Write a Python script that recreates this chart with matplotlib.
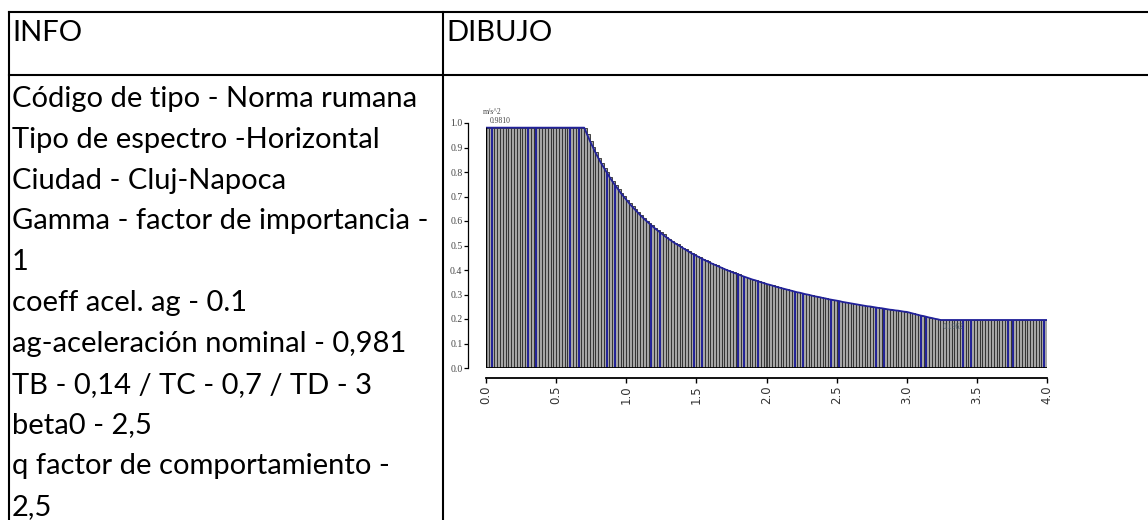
import numpy as np
import matplotlib
matplotlib.use("Agg")
import matplotlib.pyplot as plt

# left column of the table
header_left = "INFO"
header_right = "DIBUJO"
info_lines = [
    "Código de tipo - Norma rumana",
    "Tipo de espectro -Horizontal",
    "Ciudad - Cluj-Napoca",
    "Gamma - factor de importancia -",
    "1",
    "coeff acel. ag - 0.1",
    "ag-aceleración nominal - 0,981",
    "TB - 0,14 / TC - 0,7 / TD - 3",
    "beta0 - 2,5",
    "q factor de comportamiento -",
    "2,5",
]

# spectrum (period step 0.02 s, values in m/s^2)
period_step = 0.02
periods = np.round(np.arange(0.0, 4.0, period_step), 2)
sa = [
    0.981, 0.981, 0.981, 0.981, 0.981, 0.981, 0.981, 0.981, 0.981, 0.981,
    0.981, 0.981, 0.981, 0.981, 0.981, 0.981, 0.981, 0.981, 0.981, 0.981,
    0.981, 0.981, 0.981, 0.981, 0.981, 0.981, 0.981, 0.981, 0.981, 0.981,
    0.981, 0.981, 0.981, 0.981, 0.981,
    0.981, 0.954, 0.928, 0.904, 0.880, 0.858, 0.837, 0.818, 0.799, 0.780,
    0.763, 0.746, 0.731, 0.715, 0.701, 0.687, 0.673, 0.660, 0.648, 0.636,
    0.624, 0.613, 0.602, 0.592, 0.582, 0.572, 0.563, 0.554, 0.545, 0.536,
    0.528, 0.520, 0.512, 0.505, 0.498, 0.491, 0.484, 0.477, 0.470, 0.464,
    0.458, 0.452, 0.446, 0.440, 0.435, 0.429, 0.424, 0.419, 0.414, 0.409,
    0.404, 0.399, 0.395, 0.390, 0.386, 0.382, 0.377, 0.373, 0.369, 0.365,
    0.361, 0.358, 0.354, 0.350, 0.347, 0.343, 0.340, 0.337, 0.333, 0.330,
    0.327, 0.324, 0.321, 0.318, 0.315, 0.312, 0.309, 0.307, 0.304, 0.301,
    0.299, 0.296, 0.293, 0.291, 0.289, 0.286, 0.284, 0.281, 0.279, 0.277,
    0.275, 0.273, 0.270, 0.268, 0.266, 0.264, 0.262, 0.260, 0.258, 0.256,
    0.254, 0.252, 0.251, 0.249, 0.247, 0.245, 0.244, 0.242, 0.240, 0.238,
    0.237, 0.235, 0.234, 0.232, 0.230, 0.229, 0.226, 0.223, 0.220, 0.217,
    0.214, 0.212, 0.209, 0.206, 0.204, 0.201, 0.199, 0.196,
    0.196, 0.196, 0.196, 0.196, 0.196, 0.196, 0.196, 0.196, 0.196, 0.196,
    0.196, 0.196, 0.196, 0.196, 0.196, 0.196, 0.196, 0.196, 0.196, 0.196,
    0.196, 0.196, 0.196, 0.196, 0.196, 0.196, 0.196, 0.196, 0.196, 0.196,
    0.196, 0.196, 0.196, 0.196, 0.196, 0.196, 0.196,
]
sa = np.array(sa)
# bars that show up blue in the picture
blue_periods = [0.04, 0.30, 0.36, 0.60, 0.66, 0.86, 0.92, 1.18, 1.24, 1.48,
                1.54, 1.80, 1.84, 1.94, 2.20, 2.26, 2.46, 2.52, 2.78, 2.84,
                3.10, 3.14, 3.40, 3.46, 3.72, 3.76, 3.98]
x_ticks = [0.0, 0.5, 1.0, 1.5, 2.0, 2.5, 3.0, 3.5, 4.0]
y_ticks = [0.0, 0.1, 0.2, 0.3, 0.4, 0.5, 0.6, 0.7, 0.8, 0.9, 1.0]
peak_label = "0.9810"
min_label = "0.1962"
unit_label = "m/s^2"

W, H = 1148, 520
fig = plt.figure(figsize=(W / 100, H / 100), dpi=100)

# table drawn in pixel coords
bg = fig.add_axes([0, 0, 1, 1])
bg.set_xlim(0, W)
bg.set_ylim(H, 0)
bg.axis("off")
lw = 1.5
bg.plot([9, W], [12, 12], color="black", lw=lw)
bg.plot([9, W], [75, 75], color="black", lw=lw)
bg.plot([9, 9], [12, H], color="black", lw=lw)
bg.plot([443, 443], [12, H], color="black", lw=lw)

font = "Lato"
fs = 21
bg.text(12, 41, header_left, fontsize=fs, family=font, va="baseline")
bg.text(446, 41, header_right, fontsize=fs, family=font, va="baseline")
for i, line in enumerate(info_lines):
    bg.text(12, 107 + 40.8 * i, line, fontsize=fs, family=font, va="baseline")

# spectrum plot
ax = fig.add_axes([486 / W, (H - 368) / H, 561 / W, 245 / H])
navy = "#22229a"
ax.bar(periods, sa, width=period_step, align="edge", color="#a6a6a6",
       edgecolor="#2a2a2a", linewidth=0.6)
idx = [int(round(p / period_step)) for p in blue_periods]
ax.vlines(periods[idx], 0, sa[idx], color=navy, lw=1.4)
ax.plot(np.append(periods, 4.0), np.append(sa, sa[-1]), color=navy, lw=1.3)
ax.axhline(0, color="black", lw=1.3)
ax.axvline(0, ymax=sa[0], color="black", lw=1.0)

ax.set_xlim(0, 4.0)
ax.set_ylim(0, 1.0)
for s in ["top", "right"]:
    ax.spines[s].set_visible(False)
ax.spines["left"].set_position(("outward", 13))
ax.spines["bottom"].set_position(("outward", 7))
ax.spines["left"].set_linewidth(0.9)
ax.spines["bottom"].set_linewidth(1.3)
ax.set_xticks(x_ticks)
ax.set_xticklabels([f"{t:.1f}" for t in x_ticks], rotation=90,
                   fontsize=8.5, family="DejaVu Sans", color="#333333")
ax.set_yticks(y_ticks)
ax.set_yticklabels([f"{t:.1f}" for t in y_ticks], fontsize=7,
                   family="Liberation Serif", color="#444444")
ax.tick_params(axis="y", length=3.0, width=0.9, pad=1)
ax.tick_params(axis="x", length=3.5, width=1.0, pad=2)

ax.annotate(unit_label, (0.0, 1.0), xytext=(-2, 5), textcoords="offset points",
            fontsize=5.5, family="Liberation Serif", color="#444444",
            va="bottom", annotation_clip=False)
ax.annotate(peak_label, (0.03, sa[0]), xytext=(0, 2), textcoords="offset points",
            fontsize=5.5, family="Liberation Serif", color="#444444",
            va="bottom", annotation_clip=False)
ax.annotate(min_label, (3.26, 0.196), xytext=(0, -2), textcoords="offset points",
            fontsize=5.5, family="Liberation Serif", color="#445566",
            va="top")

fig.savefig("out.png", dpi=100)
